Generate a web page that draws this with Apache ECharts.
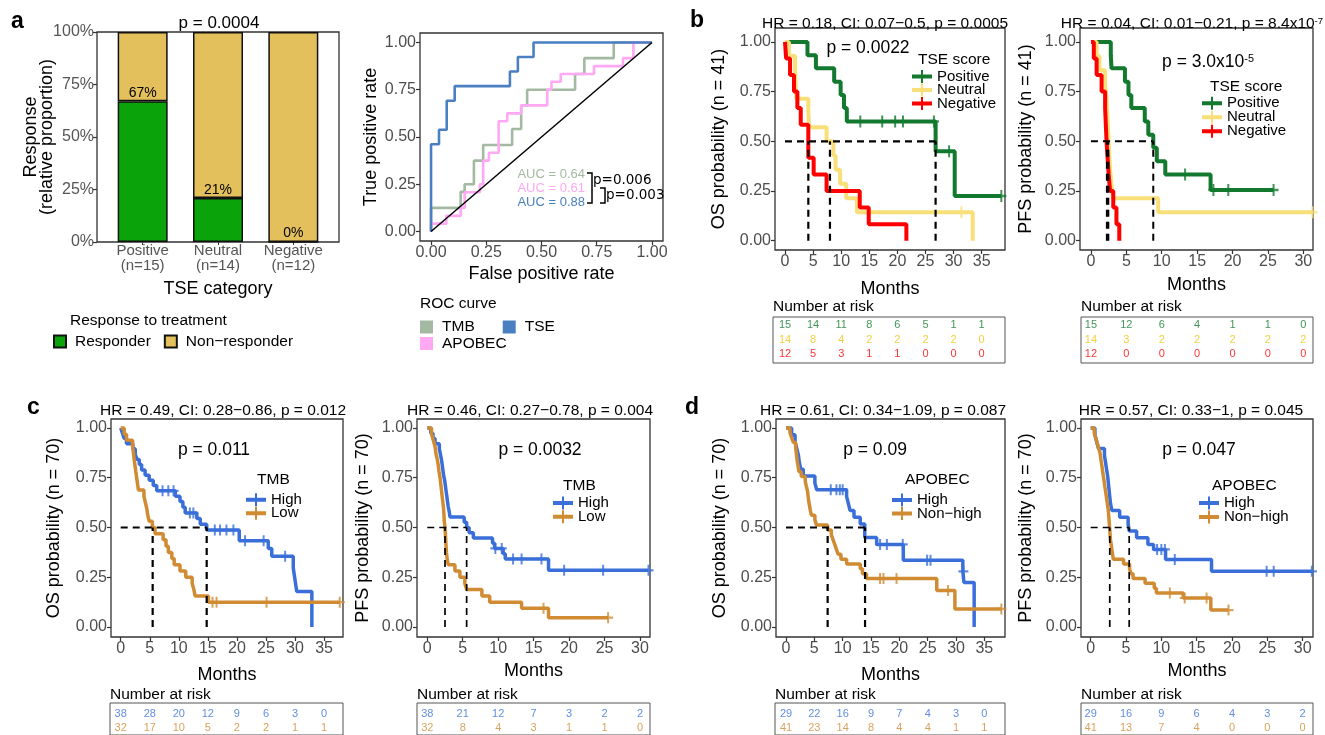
<!DOCTYPE html>
<html>
<head>
<meta charset="utf-8">
<script src="https://cdn.jsdelivr.net/npm/echarts@6/dist/echarts.min.js"></script>
<style>
html, body { margin: 0; padding: 0; background: #fff; }
#chart { width: 1325px; height: 735px; }
</style>
</head>
<body>
<div id="chart"></div>
<script>
// ---------- data ----------
// a: response by TSE category
const tseCategories = ['Positive\n(n=15)', 'Neutral\n(n=14)', 'Negative\n(n=12)'];
const responderPct = [67, 21, 0];
const nonResponderPct = [33, 79, 100];

// a: ROC curves, [false positive rate, true positive rate]
const rocTMB = [[0,0],[0,0.125],[0.134,0.21],[0.152,0.25],[0.194,0.375],[0.236,0.458],[0.367,0.542],[0.408,0.667],[0.435,0.75],[0.652,0.833],[0.694,0.917],[0.827,1],[1,1]];
const rocAPOBEC = [[0,0],[0,0.042],[0.069,0.083],[0.134,0.125],[0.152,0.208],[0.221,0.25],[0.236,0.375],[0.262,0.417],[0.306,0.583],[0.345,0.625],[0.408,0.667],[0.526,0.75],[0.545,0.792],[0.587,0.833],[0.738,0.875],[0.869,0.917],[0.916,1],[1,1]];
const rocTSE = [[0,0],[0,0.462],[0.036,0.538],[0.071,0.692],[0.107,0.769],[0.357,0.846],[0.393,0.923],[0.464,1],[1,1]];
const aucLabels = ['AUC = 0.64', 'AUC = 0.61', 'AUC = 0.88'];

// Kaplan-Meier curves, [months, survival]; censor times in months
const bOsPositive = [[0,1],[4.0,0.933],[5.5,0.867],[8.75,0.8],[9.9,0.733],[10.5,0.667],[11.0,0.6],[26.8,0.45],[30.2,0.225],[38.5,0.225]];
const bOsPositiveCens = [13.4, 17.3, 19.6, 21.0, 26.5, 29.2, 38.5];
const bOsNeutral = [[0,1],[0.7,0.929],[1.8,0.857],[1.9,0.786],[2.0,0.714],[4.15,0.643],[4.3,0.571],[7.4,0.5],[8.6,0.429],[9.0,0.357],[9.8,0.286],[10.9,0.214],[12.8,0.143],[33.4,0]];
const bOsNeutralCens = [31.4];
const bOsNegative = [[0,1],[0.2,0.917],[0.9,0.833],[1.6,0.75],[2.2,0.667],[2.8,0.583],[4.15,0.417],[5.1,0.333],[7.4,0.25],[13.3,0.167],[14.9,0.083],[21.6,0]];
const bOsNegativeCens = [];
const bOsMedians = [4.15, 8.0, 26.8];

const bPfsPositive = [[0,1],[2.8,0.933],[2.9,0.867],[4.8,0.8],[5.3,0.733],[5.7,0.667],[7.6,0.6],[8.1,0.533],[8.8,0.467],[9.3,0.4],[10.5,0.333],[16.9,0.255],[25.8,0.255]];
const bPfsPositiveCens = [13.3, 17.3, 19.4, 25.8];
const bPfsNeutral = [[0,1],[0.8,0.929],[1.2,0.857],[2.0,0.786],[2.2,0.714],[2.3,0.643],[2.4,0.571],[2.5,0.5],[2.6,0.429],[2.7,0.357],[2.9,0.286],[3.15,0.214],[9.5,0.143],[31.3,0.143]];
const bPfsNeutralCens = [31.3];
const bPfsNegative = [[0,1],[0.4,0.917],[0.8,0.833],[1.5,0.75],[2.0,0.667],[2.1,0.583],[2.2,0.5],[2.35,0.417],[2.5,0.333],[2.7,0.25],[3.15,0.167],[3.6,0.083],[4.0,0]];
const bPfsNegativeCens = [];
const bPfsMedians = [2.25, 2.45, 8.8];

const cOsHigh = [[0,1],[0.3,0.974],[0.6,0.947],[1.0,0.921],[2.1,0.895],[2.5,0.868],[2.8,0.842],[3.2,0.816],[3.6,0.789],[4.2,0.763],[4.9,0.737],[5.6,0.711],[6.2,0.684],[9.4,0.657],[10.2,0.63],[10.7,0.602],[11.1,0.573],[13.1,0.545],[13.7,0.516],[14.8,0.487],[20.4,0.433],[25.4,0.394],[26.0,0.355],[29.7,0.296],[30.0,0.237],[30.3,0.178],[32.9,0]];
const cOsHighCens = [7.2, 8.2, 9.1, 11.9, 12.5, 16.2, 17.1, 18.2, 19.4, 21.4, 24.6, 28.3];
const cOsLow = [[0,1],[0.6,0.969],[1.0,0.938],[2.05,0.906],[2.2,0.875],[2.3,0.844],[2.45,0.813],[2.6,0.781],[2.75,0.75],[2.9,0.719],[3.05,0.688],[4.0,0.656],[4.25,0.625],[4.5,0.594],[4.65,0.563],[4.9,0.531],[5.45,0.5],[5.9,0.469],[7.3,0.438],[7.8,0.406],[8.2,0.375],[8.8,0.344],[9.2,0.313],[10.2,0.281],[11.2,0.25],[12.3,0.219],[12.6,0.188],[12.8,0.156],[15.1,0.125],[37.7,0.125]];
const cOsLowCens = [15.8, 16.5, 25.1, 37.7];
const cOsMedians = [5.5, 14.8];

const cPfsHigh = [[0,1],[0.5,0.974],[0.8,0.947],[1.1,0.921],[1.7,0.895],[1.85,0.868],[2.0,0.842],[2.1,0.816],[2.2,0.789],[2.3,0.763],[2.45,0.737],[2.55,0.711],[2.65,0.684],[2.75,0.658],[2.85,0.632],[2.95,0.605],[3.1,0.579],[3.2,0.553],[5.2,0.526],[5.55,0.5],[5.9,0.474],[6.5,0.447],[9.2,0.421],[9.5,0.395],[10.7,0.368],[11.0,0.342],[17.1,0.285],[31.2,0.285]];
const cPfsHighCens = [9.6, 10.5, 12.1, 13.3, 16.1, 19.3, 24.8, 31.2];
const cPfsLow = [[0,1],[0.6,0.969],[0.85,0.938],[1.1,0.906],[1.2,0.875],[1.4,0.844],[1.55,0.813],[1.65,0.781],[1.8,0.75],[1.9,0.719],[2.0,0.688],[2.1,0.656],[2.2,0.625],[2.3,0.594],[2.35,0.563],[2.4,0.531],[2.5,0.5],[2.55,0.469],[2.6,0.438],[2.65,0.406],[2.7,0.375],[2.8,0.344],[2.95,0.313],[3.9,0.281],[4.6,0.25],[5.3,0.219],[5.55,0.188],[7.7,0.156],[8.8,0.125],[13.3,0.094],[17.1,0.047],[25.5,0.047]];
const cPfsLowCens = [16.4, 25.5];
const cPfsMedians = [2.5, 5.55];

const dOsHigh = [[0,1],[1.0,0.966],[1.6,0.931],[1.9,0.897],[2.2,0.862],[2.35,0.828],[2.6,0.793],[3.05,0.759],[5.1,0.724],[5.4,0.69],[10.7,0.655],[11.0,0.621],[11.3,0.586],[12.0,0.552],[13.1,0.517],[13.9,0.45],[16.0,0.415],[20.7,0.336],[31.2,0.28],[31.4,0.224],[33.2,0]];
const dOsHighCens = [7.9, 8.9, 9.5, 10.0, 16.6, 17.8, 20.6, 24.9, 25.5, 31.3];
const dOsNonHigh = [[0,1],[0.7,0.976],[1.0,0.951],[1.3,0.927],[1.7,0.902],[1.8,0.878],[1.9,0.854],[2.0,0.829],[2.15,0.805],[2.3,0.78],[2.7,0.756],[3.4,0.732],[3.6,0.707],[3.8,0.683],[3.9,0.659],[4.0,0.634],[4.15,0.61],[4.3,0.585],[4.5,0.561],[5.1,0.537],[5.4,0.512],[7.35,0.488],[8.0,0.463],[8.3,0.439],[8.6,0.415],[8.9,0.39],[9.2,0.366],[9.7,0.341],[10.7,0.317],[13.1,0.293],[13.5,0.268],[14.2,0.244],[26.6,0.183],[29.8,0.091],[38.0,0.091]];
const dOsNonHighCens = [16.6, 17.2, 19.5, 28.6, 38.0];
const dOsMedians = [7.35, 13.95];

const dPfsHigh = [[0,1],[0.6,0.966],[0.85,0.931],[1.1,0.897],[1.95,0.862],[2.1,0.828],[2.25,0.793],[2.4,0.759],[2.5,0.724],[2.6,0.69],[2.7,0.655],[2.8,0.621],[3.0,0.586],[4.1,0.552],[5.3,0.517],[5.45,0.483],[6.5,0.448],[8.1,0.414],[8.9,0.39],[10.6,0.339],[17.1,0.28],[31.3,0.28]];
const dPfsHighCens = [9.4, 10.0, 10.5, 11.9, 24.9, 25.9, 31.3];
const dPfsNonHigh = [[0,1],[0.5,0.976],[0.7,0.951],[0.9,0.927],[1.1,0.902],[1.3,0.878],[1.4,0.854],[1.5,0.829],[1.6,0.805],[1.7,0.78],[1.8,0.756],[1.9,0.732],[2.0,0.707],[2.1,0.683],[2.2,0.659],[2.3,0.634],[2.4,0.61],[2.5,0.585],[2.55,0.561],[2.6,0.537],[2.65,0.512],[2.7,0.488],[2.75,0.463],[2.8,0.439],[2.9,0.415],[3.0,0.39],[3.1,0.366],[3.2,0.341],[4.65,0.317],[5.5,0.293],[5.7,0.268],[6.0,0.244],[7.7,0.22],[9.0,0.195],[9.3,0.171],[13.1,0.146],[17.0,0.085],[19.5,0.085]];
const dPfsNonHighCens = [11.2, 13.3, 16.4, 19.5];
const dPfsMedians = [2.7, 5.45];

// numbers at risk
const osRiskTimes = [0, 5, 10, 15, 20, 25, 30, 35];
const pfsRiskTimes = [0, 5, 10, 15, 20, 25, 30];
const bOsRiskPositive = [15, 14, 11, 8, 6, 5, 1, 1];
const bOsRiskNeutral = [14, 8, 4, 2, 2, 2, 2, 0];
const bOsRiskNegative = [12, 5, 3, 1, 1, 0, 0, 0];
const bPfsRiskPositive = [15, 12, 6, 4, 1, 1, 0];
const bPfsRiskNeutral = [14, 3, 2, 2, 2, 2, 2];
const bPfsRiskNegative = [12, 0, 0, 0, 0, 0, 0];
const cOsRiskHigh = [38, 28, 20, 12, 9, 6, 3, 0];
const cOsRiskLow = [32, 17, 10, 5, 2, 2, 1, 1];
const cPfsRiskHigh = [38, 21, 12, 7, 3, 2, 2];
const cPfsRiskLow = [32, 8, 4, 3, 1, 1, 0];
const dOsRiskHigh = [29, 22, 16, 9, 7, 4, 3, 0];
const dOsRiskNonHigh = [41, 23, 14, 8, 4, 4, 1, 1];
const dPfsRiskHigh = [29, 16, 9, 6, 4, 3, 2];
const dPfsRiskNonHigh = [41, 13, 7, 4, 0, 0, 0];

const survTicks = [0, 0.25, 0.5, 0.75, 1];
const pctTicks = [0, 25, 50, 75, 100];
const osTicks = [0, 5, 10, 15, 20, 25, 30, 35];
const pfsTicks = [0, 5, 10, 15, 20, 25, 30];

// ---------- styling ----------
const FONT = '"Liberation Sans", Arial, Helvetica, sans-serif';
const C_POS = '#12792e', C_NEU = '#f9df78', C_NEU_TXT = '#f0c30f', C_NEG = '#ff0000';
const C_HIGH = '#3a6fd9', C_LOW = '#d08b33';
const PLUS = 'path://M4,0H6V10H4Z M0,4H10V6H0Z';
const KEY = 'path://M0,4.5H20V8.5H0Z M9,0H11V13H9Z';

const grids = [], xAxes = [], yAxes = [], series = [], legends = [], graphics = [];

function addPanel(box, xAxis, yAxis, border) {
    const i = grids.length;
    grids.push({
        left: box[0], top: box[1], width: box[2], height: box[3],
        show: border !== 'none', borderColor: border || '#333', borderWidth: 1.3,
        backgroundColor: 'rgba(0,0,0,0)'
    });
    xAxes.push(Object.assign({ gridIndex: i }, xAxis));
    yAxes.push(Object.assign({ gridIndex: i }, yAxis));
    return i;
}

function valAxis(min, max, ticks, fmt, more) {
    return Object.assign({
        type: 'value', min: min, max: max,
        axisLine: { show: false, onZero: false },
        axisTick: { show: true, length: 4, lineStyle: { color: '#333', width: 1.2 }, customValues: ticks },
        axisLabel: { customValues: ticks, formatter: fmt, color: '#4d4d4d', fontSize: 16, margin: 4, fontFamily: FONT },
        splitLine: { show: false },
        nameLocation: 'middle',
        nameMoveOverlap: false,
        nameTextStyle: { color: '#000', fontSize: 18, fontFamily: FONT }
    }, more || {});
}

function hiddenAxis(min, max, more) {
    return Object.assign({ type: 'value', min: min, max: max, show: false }, more || {});
}

function addText(x, y, text, size, opts) {
    graphics.push({
        type: 'text', x: x, y: y, silent: true,
        style: Object.assign({ text: text, fill: '#000', fontSize: size, fontFamily: FONT, align: 'left', verticalAlign: 'middle' }, opts || {})
    });
}

function survAt(curve, t) {
    let s = curve[0][1];
    curve.forEach(p => { if (p[0] <= t) s = p[1]; });
    return s;
}

function dashed(g, data, w) {
    series.push({
        type: 'line', xAxisIndex: g, yAxisIndex: g, data: data, symbol: 'none', silent: true,
        lineStyle: { color: '#000', width: w, type: [7, 5] }, z: 6
    });
}

const legendText = { fontSize: 15.5, color: '#000', fontFamily: FONT, padding: [0, 0, 0, 4] };

// ---------- a: stacked response bars ----------
// outer box carries the percentage axis, inner grid places the three bars
addPanel([97, 32, 242, 210],
    hiddenAxis(0, 1),
    valAxis(0, 100, pctTicks, v => v + '%', {
        name: 'Response\n(relative proportion)', nameGap: 42,
        nameTextStyle: { color: '#000', fontSize: 18, lineHeight: 16, fontFamily: FONT },
        axisLabel: { customValues: pctTicks, formatter: v => v + '%', color: '#555', fontSize: 16, margin: 3, fontFamily: FONT }
    }));
const gBar = addPanel([105, 32, 226, 210],
    {
        type: 'category', data: tseCategories, name: 'TSE category', nameLocation: 'middle', nameGap: 38,
        nameMoveOverlap: false,
        nameTextStyle: { color: '#000', fontSize: 18, fontFamily: FONT },
        axisLine: { show: false },
        axisTick: { show: true, alignWithLabel: true, length: 3, lineStyle: { color: '#333' } },
        axisLabel: { interval: 0, color: '#555', fontSize: 15, lineHeight: 14.5, margin: 2, fontFamily: FONT }
    },
    hiddenAxis(0, 100), 'none');
series.push({
    type: 'bar', name: 'Responder', stack: 'resp', xAxisIndex: gBar, yAxisIndex: gBar, barWidth: 50,
    data: responderPct,
    itemStyle: { color: '#0aa30a', borderColor: '#111', borderWidth: 1.5 },
    label: { show: true, position: 'top', distance: 1, formatter: '{c}%', color: '#000', fontSize: 14, fontFamily: FONT }
});
series.push({
    type: 'bar', name: 'Non\u2212responder', stack: 'resp', xAxisIndex: gBar, yAxisIndex: gBar, barWidth: 50,
    data: nonResponderPct,
    itemStyle: { color: '#e4c05c', borderColor: '#111', borderWidth: 1.5 }
});
legends.push({
    data: ['Responder', 'Non\u2212responder'], left: 53, top: 333.5, padding: 0, icon: 'rect',
    itemWidth: 12, itemHeight: 12, itemGap: 13, selectedMode: false, textStyle: legendText
});
addText(11, 22, 'a', 23, { fontWeight: 'bold' });
addText(219, 23, 'p = 0.0004', 17, { align: 'center' });
addText(70, 321, 'Response to treatment', 15.5);

// ---------- a: ROC ----------
const gRoc = addPanel([420, 33, 243, 208],
    valAxis(-0.05, 1.05, survTicks, v => v.toFixed(2), { name: 'False positive rate', nameGap: 24 }),
    valAxis(-0.05, 1.05, survTicks, v => v.toFixed(2), { name: 'True positive rate', nameGap: 40 }));
[['TMB', rocTMB, '#a3b9a1'], ['APOBEC', rocAPOBEC, '#ffa8f3'], ['TSE', rocTSE, '#4a80c2']].forEach(r => {
    series.push({
        type: 'line', name: r[0], xAxisIndex: gRoc, yAxisIndex: gRoc, data: r[1], step: 'end', symbol: 'none',
        lineStyle: { color: r[2], width: 2.6 }, itemStyle: { color: r[2] }, z: 3
    });
});
series.push({
    type: 'line', xAxisIndex: gRoc, yAxisIndex: gRoc, data: [[0, 0], [1, 1]], symbol: 'none', silent: true,
    lineStyle: { color: '#000', width: 1.5 }, z: 4
});
legends.push({
    data: ['TMB', 'TSE'], left: 420, top: 319, padding: 0, icon: 'rect', itemWidth: 13, itemHeight: 13, itemGap: 28,
    selectedMode: false, textStyle: legendText
});
legends.push({
    data: ['APOBEC'], left: 420, top: 335.5, padding: 0, icon: 'rect', itemWidth: 13, itemHeight: 13,
    selectedMode: false, textStyle: legendText
});
addText(420, 304, 'ROC curve', 15.5);
addText(585, 174, aucLabels[0], 13, { align: 'right', fill: '#a3b9a1' });
addText(585, 188, aucLabels[1], 13, { align: 'right', fill: '#ffa8f3' });
addText(585, 202, aucLabels[2], 13, { align: 'right', fill: '#4a80c2' });
graphics.push({ type: 'polyline', silent: true, shape: { points: [[587, 173], [592, 173], [592, 203], [587, 203]] }, style: { stroke: '#000', lineWidth: 1.5, fill: null } });
graphics.push({ type: 'polyline', silent: true, shape: { points: [[600, 188], [605, 188], [605, 203], [600, 203]] }, style: { stroke: '#000', lineWidth: 1.5, fill: null } });
addText(593, 180, 'p=0.006', 13.5, { fontFamily: '"DejaVu Sans", sans-serif' });
addText(606, 195, 'p=0.003', 13.5, { fontFamily: '"DejaVu Sans", sans-serif' });

// ---------- Kaplan-Meier panels ----------
function kmPanel(p) {
    const g = addPanel(p.box,
        valAxis(p.x[0], p.x[1], p.xTicks, v => String(v), { name: 'Months', nameGap: p.xGap }),
        valAxis(p.y[0], p.y[1], survTicks, v => v.toFixed(2), { name: p.yName, nameGap: p.yGap }));
    p.groups.forEach(gr => {
        series.push({
            type: 'line', name: gr.name, xAxisIndex: g, yAxisIndex: g, data: gr.curve, step: 'end', symbol: 'none',
            lineStyle: { color: gr.color, width: p.lw }, itemStyle: { color: gr.color }, z: 3
        });
        series.push({
            type: 'scatter', name: gr.name + ' censored', xAxisIndex: g, yAxisIndex: g,
            data: gr.cens.map(t => [t, survAt(gr.curve, t)]), symbol: PLUS, symbolSize: p.cs,
            itemStyle: { color: gr.color }, z: 4, silent: true
        });
    });
    const mmax = Math.max.apply(null, p.medians);
    dashed(g, [[0, 0.5], [mmax, 0.5]], p.dw);
    p.medians.forEach(m => dashed(g, [[m, 0], [m, 0.5]], p.dw));

    legends.push({
        data: p.groups.map(gr => gr.name), orient: 'vertical', left: p.legend[0], top: p.legend[1], padding: 0,
        icon: KEY, itemWidth: 20, itemHeight: 13, itemGap: p.legend[2], selectedMode: false,
        textStyle: { fontSize: 15, color: '#000', fontFamily: FONT }
    });
    addText(p.legendTitle[0], p.legendTitle[1], p.legendTitle[2], 15.5);
    addText(p.title[0], p.title[1], p.title[2], 15.5, Object.assign({ align: 'center' }, p.titleRich || {}));
    addText(p.pText[0], p.pText[1], p.pText[2], 17.5, Object.assign({ align: 'center' }, p.pRich || {}));

    // number at risk table
    const r = p.risk;
    const gr = addPanel(r.box, hiddenAxis(r.x[0], r.x[1]), hiddenAxis(r.y[0], r.y[1], { inverse: true }), '#555');
    grids[gr].borderWidth = 1;
    r.rows.forEach((row, i) => {
        series.push({
            type: 'scatter', xAxisIndex: gr, yAxisIndex: gr, symbolSize: 1, silent: true,
            itemStyle: { color: 'rgba(0,0,0,0)' },
            data: row.counts.map((n, j) => [r.times[j], i + 1, n]),
            label: { show: true, position: 'inside', formatter: q => String(q.value[2]), color: row.color, fontSize: 11, fontFamily: FONT }
        });
    });
    addText(r.box[0], r.labelY, 'Number at risk', 15.5);
}

function sup(base, exp, size) {
    return {
        text: '{n|' + base + '}{s|' + exp + '}',
        rich: {
            n: { fontSize: size, fontFamily: FONT, fill: '#000' },
            s: { fontSize: size * 0.62, fontFamily: FONT, fill: '#000', verticalAlign: 'top' }
        }
    };
}

kmPanel({
    box: [775, 28, 230, 222], x: [-1.78, 39.15], y: [-0.047, 1.07], xTicks: osTicks,
    yName: 'OS probability (n = 41)', yGap: 47, xGap: 30, lw: 4, cs: [10, 12], dw: 2.2,
    groups: [
        { name: 'Positive', curve: bOsPositive, cens: bOsPositiveCens, color: C_POS },
        { name: 'Neutral', curve: bOsNeutral, cens: bOsNeutralCens, color: C_NEU },
        { name: 'Negative', curve: bOsNegative, cens: bOsNegativeCens, color: C_NEG }
    ],
    medians: bOsMedians,
    legend: [912, 69, -1.5], legendTitle: [918, 60, 'TSE score'],
    title: [885, 24, 'HR = 0.18, CI: 0.07\u22120.5, p = 0.0005'], pText: [868, 48, 'p = 0.0022'],
    risk: {
        box: [773, 317, 232, 46], x: [-2.14, 39.15], y: [0.454, 3.594], times: osRiskTimes, labelY: 307,
        rows: [{ counts: bOsRiskPositive, color: C_POS }, { counts: bOsRiskNeutral, color: C_NEU_TXT }, { counts: bOsRiskNegative, color: C_NEG }]
    }
});
kmPanel({
    box: [1080, 28, 233, 222], x: [-1.55, 31.37], y: [-0.047, 1.07], xTicks: pfsTicks,
    yName: 'PFS probability (n = 41)', yGap: 45, xGap: 26, lw: 4, cs: [10, 12], dw: 2,
    groups: [
        { name: 'Positive', curve: bPfsPositive, cens: bPfsPositiveCens, color: C_POS },
        { name: 'Neutral', curve: bPfsNeutral, cens: bPfsNeutralCens, color: C_NEU },
        { name: 'Negative', curve: bPfsNegative, cens: bPfsNegativeCens, color: C_NEG }
    ],
    medians: bPfsMedians,
    legend: [1202, 95.8, -1], legendTitle: [1210, 87, 'TSE score'],
    title: [1192, 24, ''], titleRich: sup('HR = 0.04, CI: 0.01\u22120.21, p = 8.4x10', '-7', 15.5),
    pText: [1208, 62, ''], pRich: sup('p = 3.0x10', '-5', 17.5),
    risk: {
        box: [1081, 317, 232, 46], x: [-1.41, 31.37], y: [0.454, 3.594], times: pfsRiskTimes, labelY: 307,
        rows: [{ counts: bPfsRiskPositive, color: C_POS }, { counts: bPfsRiskNeutral, color: C_NEU_TXT }, { counts: bPfsRiskNegative, color: C_NEG }]
    }
});
kmPanel({
    box: [111, 419, 232, 218], x: [-1.67, 38.26], y: [-0.05, 1.045], xTicks: osTicks,
    yName: 'OS probability (n = 70)', yGap: 48, xGap: 29, lw: 3.5, cs: [10, 11], dw: 2.2,
    groups: [
        { name: 'High', curve: cOsHigh, cens: cOsHighCens, color: C_HIGH },
        { name: 'Low', curve: cOsLow, cens: cOsLowCens, color: C_LOW }
    ],
    medians: cOsMedians,
    legend: [246, 492.3, -1.6], legendTitle: [257, 480, 'TMB'],
    title: [223, 411, 'HR = 0.49, CI: 0.28\u22120.86, p = 0.012'], pText: [214, 450, 'p = 0.011'],
    risk: {
        box: [110, 703, 233, 32], x: [-1.84, 38.26], y: [0.193, 2.479], times: osRiskTimes, labelY: 695,
        rows: [{ counts: cOsRiskHigh, color: C_HIGH }, { counts: cOsRiskLow, color: C_LOW }]
    }
});
kmPanel({
    box: [417, 419, 233, 218], x: [-1.45, 31.41], y: [-0.05, 1.045], xTicks: pfsTicks,
    yName: 'PFS probability (n = 70)', yGap: 45, xGap: 25, lw: 3.5, cs: [10, 11], dw: 1.7,
    groups: [
        { name: 'High', curve: cPfsHigh, cens: cPfsHighCens, color: C_HIGH },
        { name: 'Low', curve: cPfsLow, cens: cPfsLowCens, color: C_LOW }
    ],
    medians: cPfsMedians,
    legend: [553, 495.5, -1.3], legendTitle: [563, 486, 'TMB'],
    title: [530, 411, 'HR = 0.46, CI: 0.27\u22120.78, p = 0.004'], pText: [540, 450, 'p = 0.0032'],
    risk: {
        box: [417, 703, 233, 32], x: [-1.45, 31.41], y: [0.193, 2.479], times: pfsRiskTimes, labelY: 695,
        rows: [{ counts: cPfsRiskHigh, color: C_HIGH }, { counts: cPfsRiskLow, color: C_LOW }]
    }
});
kmPanel({
    box: [776, 419, 229, 218], x: [-1.76, 38.64], y: [-0.05, 1.045], xTicks: osTicks,
    yName: 'OS probability (n = 70)', yGap: 47, xGap: 29, lw: 3.5, cs: [10, 11], dw: 2.2,
    groups: [
        { name: 'High', curve: dOsHigh, cens: dOsHighCens, color: C_HIGH },
        { name: 'Non\u2212high', curve: dOsNonHigh, cens: dOsNonHighCens, color: C_LOW }
    ],
    medians: dOsMedians,
    legend: [892, 492.5, -1.5], legendTitle: [905, 480, 'APOBEC'],
    title: [883, 411, 'HR = 0.61, CI: 0.34\u22121.09, p = 0.087'], pText: [875, 450, 'p = 0.09'],
    risk: {
        box: [775, 703, 230, 32], x: [-1.94, 38.64], y: [0.193, 2.479], times: osRiskTimes, labelY: 695,
        rows: [{ counts: dOsRiskHigh, color: C_HIGH }, { counts: dOsRiskNonHigh, color: C_LOW }]
    }
});
kmPanel({
    box: [1081, 419, 232, 218], x: [-1.37, 31.46], y: [-0.05, 1.045], xTicks: pfsTicks,
    yName: 'PFS probability (n = 70)', yGap: 46, xGap: 25, lw: 3.5, cs: [10, 11], dw: 1.7,
    groups: [
        { name: 'High', curve: dPfsHigh, cens: dPfsHighCens, color: C_HIGH },
        { name: 'Non\u2212high', curve: dPfsNonHigh, cens: dPfsNonHighCens, color: C_LOW }
    ],
    medians: dPfsMedians,
    legend: [1199, 495.5, -1], legendTitle: [1212, 486, 'APOBEC'],
    title: [1191, 411, 'HR = 0.57, CI: 0.33\u22121, p = 0.045'], pText: [1199, 450, 'p = 0.047'],
    risk: {
        box: [1081, 703, 232, 32], x: [-1.37, 31.46], y: [0.193, 2.479], times: pfsRiskTimes, labelY: 695,
        rows: [{ counts: dPfsRiskHigh, color: C_HIGH }, { counts: dPfsRiskNonHigh, color: C_LOW }]
    }
});

addText(690, 21, 'b', 23, { fontWeight: 'bold' });
addText(27, 408, 'c', 23, { fontWeight: 'bold' });
addText(685, 408, 'd', 23, { fontWeight: 'bold' });

const chart = echarts.init(document.getElementById('chart'));
chart.setOption({
    animation: false,
    backgroundColor: '#fff',
    textStyle: { fontFamily: FONT },
    grid: grids,
    xAxis: xAxes,
    yAxis: yAxes,
    legend: legends,
    series: series,
    graphic: graphics
});
</script>
</body>
</html>
